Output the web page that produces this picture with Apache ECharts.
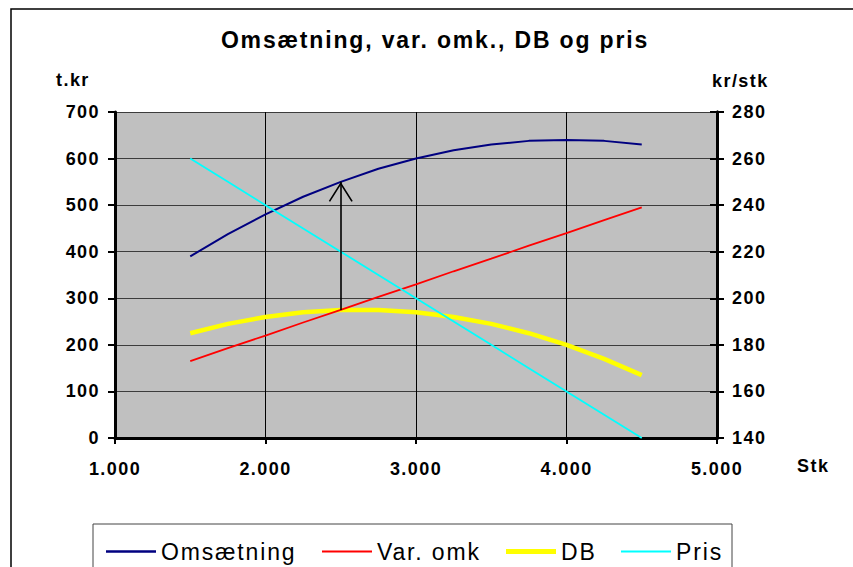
<!DOCTYPE html>
<html>
<head>
<meta charset="utf-8">
<script src="https://cdn.jsdelivr.net/npm/echarts@6/dist/echarts.min.js"></script>
<style>
html, body { margin: 0; padding: 0; background: #fff; }
#c { width: 853px; height: 567px; }
#c svg text { letter-spacing: 0.08em; }
</style>
</head>
<body>
<div id="c"></div>
<script>
// ---- data ----
const stk      = [1500, 1750, 2000, 2250, 2500, 2750, 3000, 3250, 3500, 3750, 4000, 4250, 4500];
const omsaet   = [390, 438, 480, 518, 550, 578, 600, 618, 630, 638, 640, 638, 630];
const varOmk   = [165, 193, 220, 248, 275, 303, 330, 358, 385, 413, 440, 468, 495];
const db       = [225, 245, 260, 270, 275, 275, 270, 260, 245, 225, 200, 170, 135];
const pris     = [260, 250, 240, 230, 220, 210, 200, 190, 180, 170, 160, 150, 140];
const seriesNames = ['Omsætning', 'Var. omk', 'DB', 'Pris'];
const titleText = 'Omsætning, var. omk., DB og pris';
const leftAxisName = 't.kr';
const rightAxisName = 'kr/stk';
const xAxisName = 'Stk';
const arrowAt = 2500;

// ---- layout / styling ----
const FONT = '"Liberation Sans", Arial, Helvetica, sans-serif';
const legendLefts = [106, 322, 506, 621];
const colors = ['#000080', '#FF0000', '#FFFF00', '#00FFFF'];
const widths = [2, 1.8, 4.5, 1.8];

const pairs = (ys) => stk.map((x, i) => [x, ys[i]]);
const fmtThousands = (v) => String(v).replace(/\B(?=(\d{3})+(?!\d))/g, '.');
const ai = stk.indexOf(arrowAt);

// chevron arrow head, tip at the centre of its bounding box
const chevron = 'path://M12,0 L12.01,0 L12,0.01 Z M12,20 L24,38.8 L22.6,39.6 L12,23 L1.4,39.6 L0,38.8 Z';
// legend line icon of given thickness inside a 50x14 box
const lineIcon = (w) => {
  const a = (7 - w / 2).toFixed(2), b = (7 + w / 2).toFixed(2);
  return 'path://M0,0 L0.01,0 L0,0.01 Z M0,' + a + ' L50,' + a + ' L50,' + b + ' L0,' + b + ' Z M50,14 L49.99,14 L50,13.99 Z';
};

const chart = echarts.init(document.getElementById('c'), null, { renderer: 'svg' });

const seriesData = [omsaet, varOmk, db, pris];
const series = seriesData.map((ys, i) => ({
  name: seriesNames[i],
  type: 'line',
  yAxisIndex: i === 3 ? 1 : 0,
  data: pairs(ys),
  symbol: 'none',
  lineStyle: { color: colors[i], width: widths[i] },
  itemStyle: { color: colors[i] },
  z: i === 2 ? 3 : 4,
  animation: false
}));

series[0].markLine = {
  silent: true,
  animation: false,
  symbol: ['none', chevron],
  symbolSize: [24, 40],
  label: { show: false },
  lineStyle: { color: '#000', width: 1.6, type: 'solid' },
  emphasis: { disabled: true },
  data: [[
    { coord: [stk[ai], db[ai]] },
    { coord: [stk[ai], omsaet[ai]] }
  ]]
};

const tickLabel = { color: '#000', fontFamily: FONT, fontWeight: 'bold', fontSize: 18 };

const option = {
  animation: false,
  backgroundColor: '#fff',
  grid: {
    left: 115, right: 136, top: 112, bottom: 129,
    show: true, backgroundColor: '#C0C0C0', borderWidth: 0
  },
  xAxis: {
    type: 'value', min: 1000, max: 5000, interval: 1000,
    axisLine: { show: true, onZero: false, lineStyle: { color: '#000', width: 3 } },
    axisTick: { show: true, length: 6, lineStyle: { color: '#000', width: 2 } },
    axisLabel: Object.assign({ margin: 22, formatter: fmtThousands }, tickLabel),
    splitLine: { show: true, lineStyle: { color: '#000', width: 1 } }
  },
  yAxis: [
    {
      type: 'value', min: 0, max: 700, interval: 100, position: 'left',
      axisLine: { show: true, onZero: false, lineStyle: { color: '#000', width: 3 } },
      axisTick: { show: true, length: 7, lineStyle: { color: '#000', width: 2 } },
      axisLabel: Object.assign({ margin: 15 }, tickLabel),
      splitLine: { show: true, lineStyle: { color: '#3c3c3c', width: 1 } }
    },
    {
      type: 'value', min: 140, max: 280, interval: 20, position: 'right',
      axisLine: { show: true, onZero: false, lineStyle: { color: '#000', width: 3 } },
      axisTick: { show: true, length: 7, lineStyle: { color: '#000', width: 2 } },
      axisLabel: Object.assign({ margin: 15 }, tickLabel),
      splitLine: { show: false }
    },
    {
      // same scale as the right axis, only to draw the inward half of its crossing ticks
      type: 'value', min: 140, max: 280, interval: 20, position: 'right',
      axisLine: { show: true, onZero: false, lineStyle: { color: '#000', width: 3 } },
      axisTick: { show: true, inside: true, length: 7, lineStyle: { color: '#000', width: 2 } },
      axisLabel: { show: false },
      splitLine: { show: false }
    }
  ],
  legend: seriesNames.map((n, i) => ({
    data: [{ name: n, icon: lineIcon(widths[i] + 0.4) }],
    left: legendLefts[i],
    top: 540,
    padding: 0,
    itemWidth: 50,
    itemHeight: 14,
    selectedMode: false,
    textStyle: { color: '#000', fontFamily: FONT, fontSize: 23 }
  })),
  graphic: [
    { type: 'rect', silent: true, shape: { x: 11, y: 9, width: 900, height: 600 },
      style: { fill: 'none', stroke: '#000', lineWidth: 1.5 } },
    { type: 'rect', silent: true, shape: { x: 93, y: 524, width: 639, height: 100 },
      style: { fill: 'none', stroke: '#444', lineWidth: 1 } },
    { type: 'text', silent: true, x: 435, y: 40,
      style: { text: titleText, font: 'bold 23px ' + FONT, fill: '#000', textAlign: 'center', textVerticalAlign: 'middle' } },
    { type: 'text', silent: true, x: 56, y: 80,
      style: { text: leftAxisName, font: 'bold 18px ' + FONT, fill: '#000', textAlign: 'left', textVerticalAlign: 'middle' } },
    { type: 'text', silent: true, x: 712, y: 81,
      style: { text: rightAxisName, font: 'bold 18px ' + FONT, fill: '#000', textAlign: 'left', textVerticalAlign: 'middle' } },
    { type: 'text', silent: true, x: 797, y: 466,
      style: { text: xAxisName, font: 'bold 18px ' + FONT, fill: '#000', textAlign: 'left', textVerticalAlign: 'middle' } }
  ],
  series: series
};

chart.setOption(option);
</script>
</body>
</html>
